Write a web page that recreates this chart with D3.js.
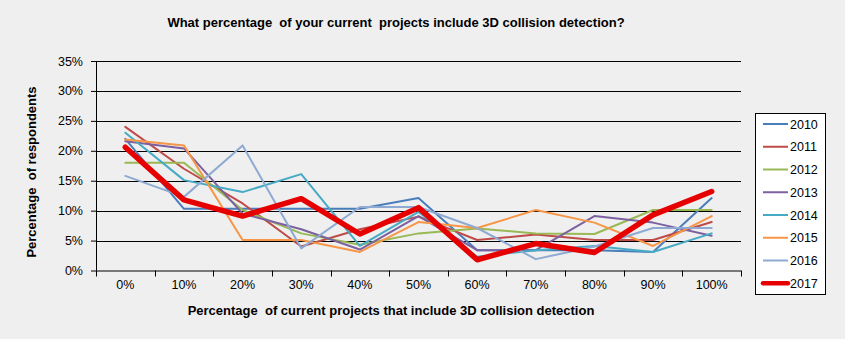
<!DOCTYPE html>
<html>
<head>
<meta charset="utf-8">
<script src="https://cdn.jsdelivr.net/npm/d3@7"></script>
<style>
  body { margin: 0; background: #efefef; }
  text { font-family: "Liberation Sans", Arial, sans-serif; fill: #000; white-space: pre; }
</style>
</head>
<body>
<div id="chart"></div>
<script>
// categories along the x axis
var categories = ["0%", "10%", "20%", "30%", "40%", "50%", "60%", "70%", "80%", "90%", "100%"];
var years = ["2010", "2011", "2012", "2013", "2014", "2015", "2016", "2017"];
var yTicks = [0, 5, 10, 15, 20, 25, 30, 35];

// values (percent of respondents)
var s2010 = [22, 10.3, 10.3, 10.3, 10.3, 12.1, 3.4, 3.4, 3.4, 3.1, 12.1];
var s2011 = [24, 17, 11.2, 4, 6.9, 9, 5.1, 6, 5.1, 5.1, 8.1];
var s2012 = [18, 18, 10.1, 6.2, 4.3, 6.2, 7, 6.2, 6.1, 10.1, 10.1];
var s2013 = [21.6, 20.4, 9.5, 6.9, 3.5, 9.1, 3.4, 3.4, 9.1, 8, 5.8];
var s2014 = [23, 15.1, 13.1, 16.1, 4.1, 9.8, 2.3, 3.4, 4.1, 3.1, 6.2];
var s2015 = [21.9, 20.9, 5.1, 5.1, 3.1, 8.1, 7.1, 10.1, 8, 4.1, 9.1];
var s2016 = [15.8, 12.3, 20.9, 3.7, 10.6, 10.6, 7.1, 1.9, 4, 7.1, 7.1];
var s2017 = [20.6, 11.8, 9.1, 12, 6.1, 10.5, 1.8, 4.5, 3, 9.3, 13.2];

var seriesValues = [s2010, s2011, s2012, s2013, s2014, s2015, s2016, s2017];
var colors = ["#4a7ebb", "#be4b48", "#98b954", "#7d60a0", "#46aac5", "#f79646", "#8eaad2", "#e60000"];

var svgWidth = 845, svgHeight = 339;
var margin = { top: 61, right: 104, bottom: 68.5, left: 96 };
var width = svgWidth - margin.left - margin.right;
var height = svgHeight - margin.top - margin.bottom;

var svg = d3.select("#chart")
  .append("svg")
  .attr("width", svgWidth)
  .attr("height", svgHeight);

svg.append("rect")
  .attr("width", svgWidth)
  .attr("height", svgHeight)
  .attr("fill", "#efefef");

var chartGroup = svg.append("g")
  .attr("transform", `translate(${margin.left}, ${margin.top})`);

// scales
var xScale = d3.scaleBand()
  .domain(categories)
  .range([0, width]);

var yScale = d3.scaleLinear()
  .domain([0, 35])
  .range([height, 0]);

// gridlines
chartGroup.append("g")
  .selectAll("line")
  .data(yTicks.slice(1))
  .enter()
  .append("line")
  .attr("x1", 0)
  .attr("x2", width)
  .attr("y1", d => Math.round(yScale(d)) + 0.5)
  .attr("y2", d => Math.round(yScale(d)) + 0.5)
  .attr("stroke", "#000")
  .attr("stroke-width", 1);

// axes
var leftAxis = d3.axisLeft(yScale)
  .tickValues(yTicks)
  .tickSize(5)
  .tickPadding(8)
  .tickFormat(d => d + "%");

var bottomAxis = d3.axisBottom(xScale)
  .tickSize(0)
  .tickPadding(10);

var yAxisG = chartGroup.append("g").call(leftAxis);
yAxisG.select(".domain").attr("d", `M0.5,0V${height}`);

var xAxisG = chartGroup.append("g")
  .attr("transform", `translate(0, ${height})`)
  .call(bottomAxis);
xAxisG.select(".domain").attr("d", `M0,0.5H${width}`);

// tick marks at category boundaries
var boundaries = categories.map(c => xScale(c)).concat([width]);
xAxisG.selectAll(".bound")
  .data(boundaries)
  .enter()
  .append("line")
  .attr("class", "bound")
  .attr("x1", d => Math.round(d) + 0.5)
  .attr("x2", d => Math.round(d) + 0.5)
  .attr("y1", 0)
  .attr("y2", 6)
  .attr("stroke", "#000");

chartGroup.selectAll(".tick text")
  .style("font-size", "12.5px")
  .style("font-family", "Liberation Sans, Arial, sans-serif")
  .attr("fill", "#000");

// lines
var line = d3.line()
  .x((d, i) => xScale(categories[i]) + xScale.bandwidth() / 2)
  .y(d => yScale(d));

chartGroup.selectAll(".series")
  .data(seriesValues)
  .enter()
  .append("path")
  .attr("class", "series")
  .attr("d", d => line(d))
  .attr("fill", "none")
  .attr("stroke", (d, i) => colors[i])
  .attr("stroke-width", (d, i) => i === 7 ? 5.5 : 2)
  .attr("stroke-linejoin", "round")
  .attr("stroke-linecap", "round");

// titles
svg.append("text")
  .attr("x", 396)
  .attr("y", 27)
  .attr("text-anchor", "middle")
  .style("font-size", "13px")
  .style("font-weight", "bold")
  .text("What percentage  of your current  projects include 3D collision detection?");

svg.append("text")
  .attr("x", 391)
  .attr("y", 315)
  .attr("text-anchor", "middle")
  .style("font-size", "13px")
  .style("font-weight", "bold")
  .text("Percentage  of current projects that include 3D collision detection");

svg.append("text")
  .attr("transform", "rotate(-90)")
  .attr("x", -172)
  .attr("y", 36)
  .attr("text-anchor", "middle")
  .style("font-size", "13px")
  .style("font-weight", "bold")
  .text("Percentage  of respondents");

// legend
var legend = svg.append("g");
legend.append("rect")
  .attr("x", 755.5)
  .attr("y", 113.5)
  .attr("width", 70)
  .attr("height", 181)
  .attr("fill", "#fff")
  .attr("stroke", "#000");

var item = legend.selectAll(".item")
  .data(years)
  .enter()
  .append("g")
  .attr("class", "item")
  .attr("transform", (d, i) => `translate(0, ${124 + i * 22.75})`);

item.append("line")
  .attr("x1", 763)
  .attr("x2", 788)
  .attr("y1", 0)
  .attr("y2", 0)
  .attr("stroke", (d, i) => colors[i])
  .attr("stroke-width", (d, i) => i === 7 ? 4.5 : 2)
  .attr("stroke-linecap", (d, i) => i === 7 ? "round" : "butt");

item.append("text")
  .attr("x", 790)
  .attr("y", 4.5)
  .style("font-size", "12.5px")
  .text(d => d);
</script>
</body>
</html>
